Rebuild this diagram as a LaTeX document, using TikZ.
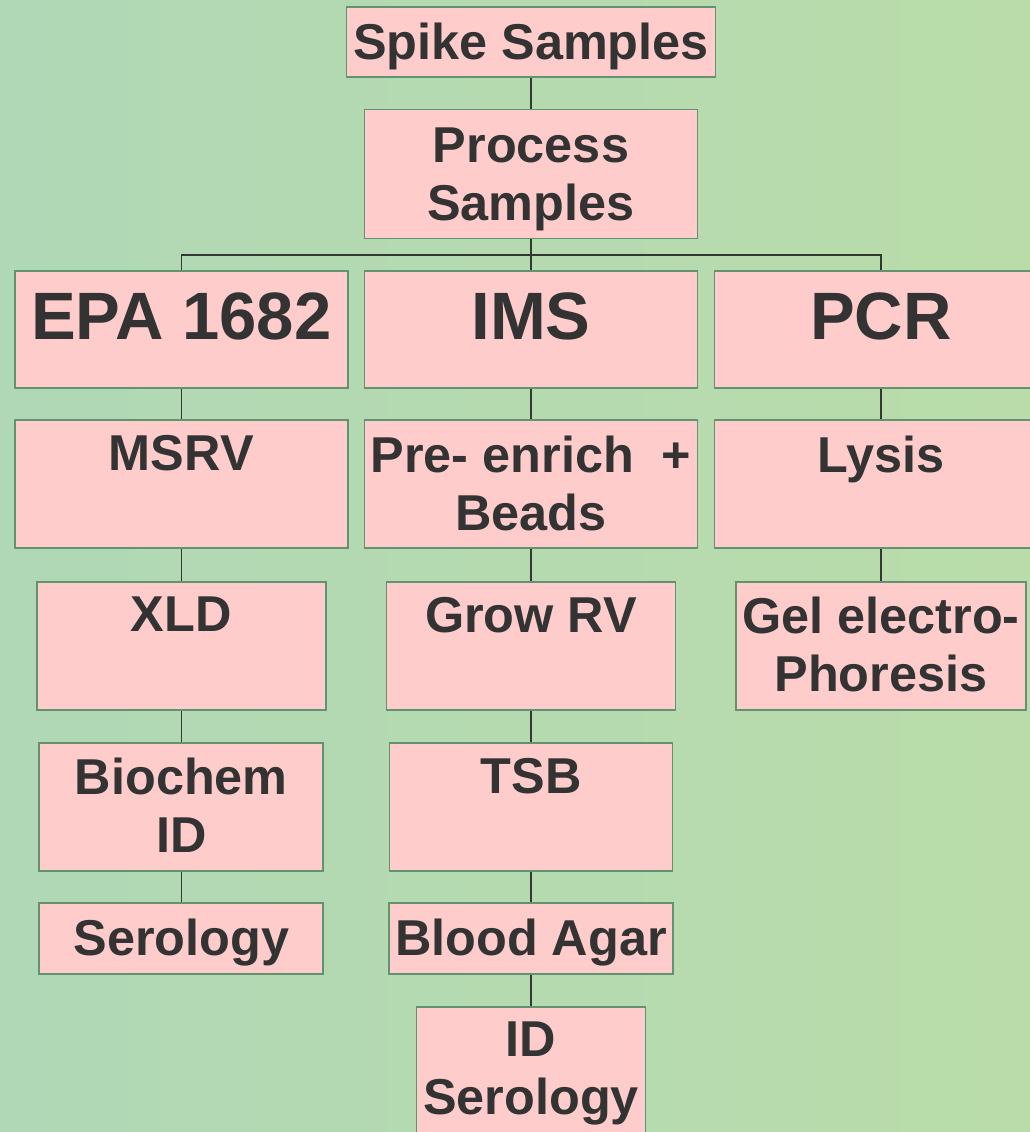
\documentclass[tikz,border=0pt]{standalone}
\usepackage{fontspec}
\setmainfont{Liberation Sans}
\usepackage{tikz}

\definecolor{boxfill}{RGB}{255,204,204}
\definecolor{boxline}{RGB}{98,146,112}
\definecolor{ink}{RGB}{51,51,51}
\definecolor{wirecol}{RGB}{50,55,50}
\definecolor{bgleft}{RGB}{176,216,182}
\definecolor{bgmid}{RGB}{188,222,178}
\definecolor{bgright}{RGB}{186,220,170}
\newcommand\normtext{\fontsize{50.4}{58}\selectfont\bfseries}
\newcommand\bigtext{\fontsize{67}{76}\selectfont\bfseries}

\begin{document}
\begin{tikzpicture}[x=1pt,y=-1pt,
  cell/.style={draw=boxline,line width=1.8pt,fill=boxfill,inner sep=0pt},
  txt/.style={anchor=north,yshift=-16pt,inner sep=0pt,align=center,font=\normtext,text=ink},
  bigtxt/.style={txt,yshift=-7pt,font=\bigtext},
  wire/.style={draw=wirecol,line width=1.2pt}]
  \useasboundingbox (0,0) rectangle (1030,1132);
  \clip (0,0) rectangle (1030,1132);
  \shade[left color=bgleft,middle color=bgmid,right color=bgright] (0,0) rectangle (1030,1132);

  \node[cell,minimum width=369,minimum height=70,label={[txt]north:Spike Samples}] (spike) at (531,42.3) {};
  \node[cell,minimum width=333,minimum height=129,label={[txt,yshift=-3pt]north:Process\\Samples}] (process) at (531,174) {};

  \node[cell,minimum width=333,minimum height=117,label={[bigtxt]north:EPA 1682}] (epa) at (181.3,329.2) {};
  \node[cell,minimum width=333,minimum height=117,label={[bigtxt]north:IMS}] (ims) at (531,329.2) {};
  \node[cell,minimum width=333,minimum height=117,label={[bigtxt]north:PCR}] (pcr) at (881,329.2) {};

  \node[cell,minimum width=333,minimum height=128,label={[txt]north:MSRV}] (msrv) at (181.3,484.2) {};
  \node[cell,minimum width=333,minimum height=128,label={[txt]north:Pre- enrich\ \ +\\Beads}] (enrich) at (531,484.2) {};
  \node[cell,minimum width=333,minimum height=128,label={[txt]north:Lysis}] (lysis) at (881,484.2) {};

  \node[cell,minimum width=289,minimum height=128,label={[txt]north:XLD}] (xld) at (181.3,645.9) {};
  \node[cell,minimum width=289,minimum height=128,label={[txt]north:Grow RV}] (growrv) at (531,645.9) {};
  \node[cell,minimum width=290,minimum height=128,label={[txt]north:Gel electro-\\Phoresis}] (gel) at (881,645.9) {};

  \node[cell,minimum width=284,minimum height=128,label={[txt]north:Biochem\\ID}] (biochem) at (181.3,806.9) {};
  \node[cell,minimum width=283,minimum height=128,label={[txt]north:TSB}] (tsb) at (531,806.9) {};

  \node[cell,minimum width=284,minimum height=70.7,label={[txt]north:Serology}] (serology) at (181.3,938.7) {};
  \node[cell,minimum width=284,minimum height=70.7,label={[txt]north:Blood Agar}] (blood) at (531,938.7) {};

  \node[cell,minimum width=229,minimum height=129,label={[txt]north:ID\\Serology}] (idsero) at (531,1071.2) {};

  \coordinate (bus) at (531,255);
  \draw[wire] (spike) -- (process);
  \draw[wire] (process) -- (bus);
  \draw[wire] (bus) -| (epa);
  \draw[wire] (bus) -- (ims);
  \draw[wire] (bus) -| (pcr);
  \foreach \a/\b in {epa/msrv,msrv/xld,xld/biochem,biochem/serology,
                     ims/enrich,enrich/growrv,growrv/tsb,tsb/blood,blood/idsero,
                     pcr/lysis,lysis/gel}
    \draw[wire] (\a) -- (\b);
\end{tikzpicture}
\end{document}
